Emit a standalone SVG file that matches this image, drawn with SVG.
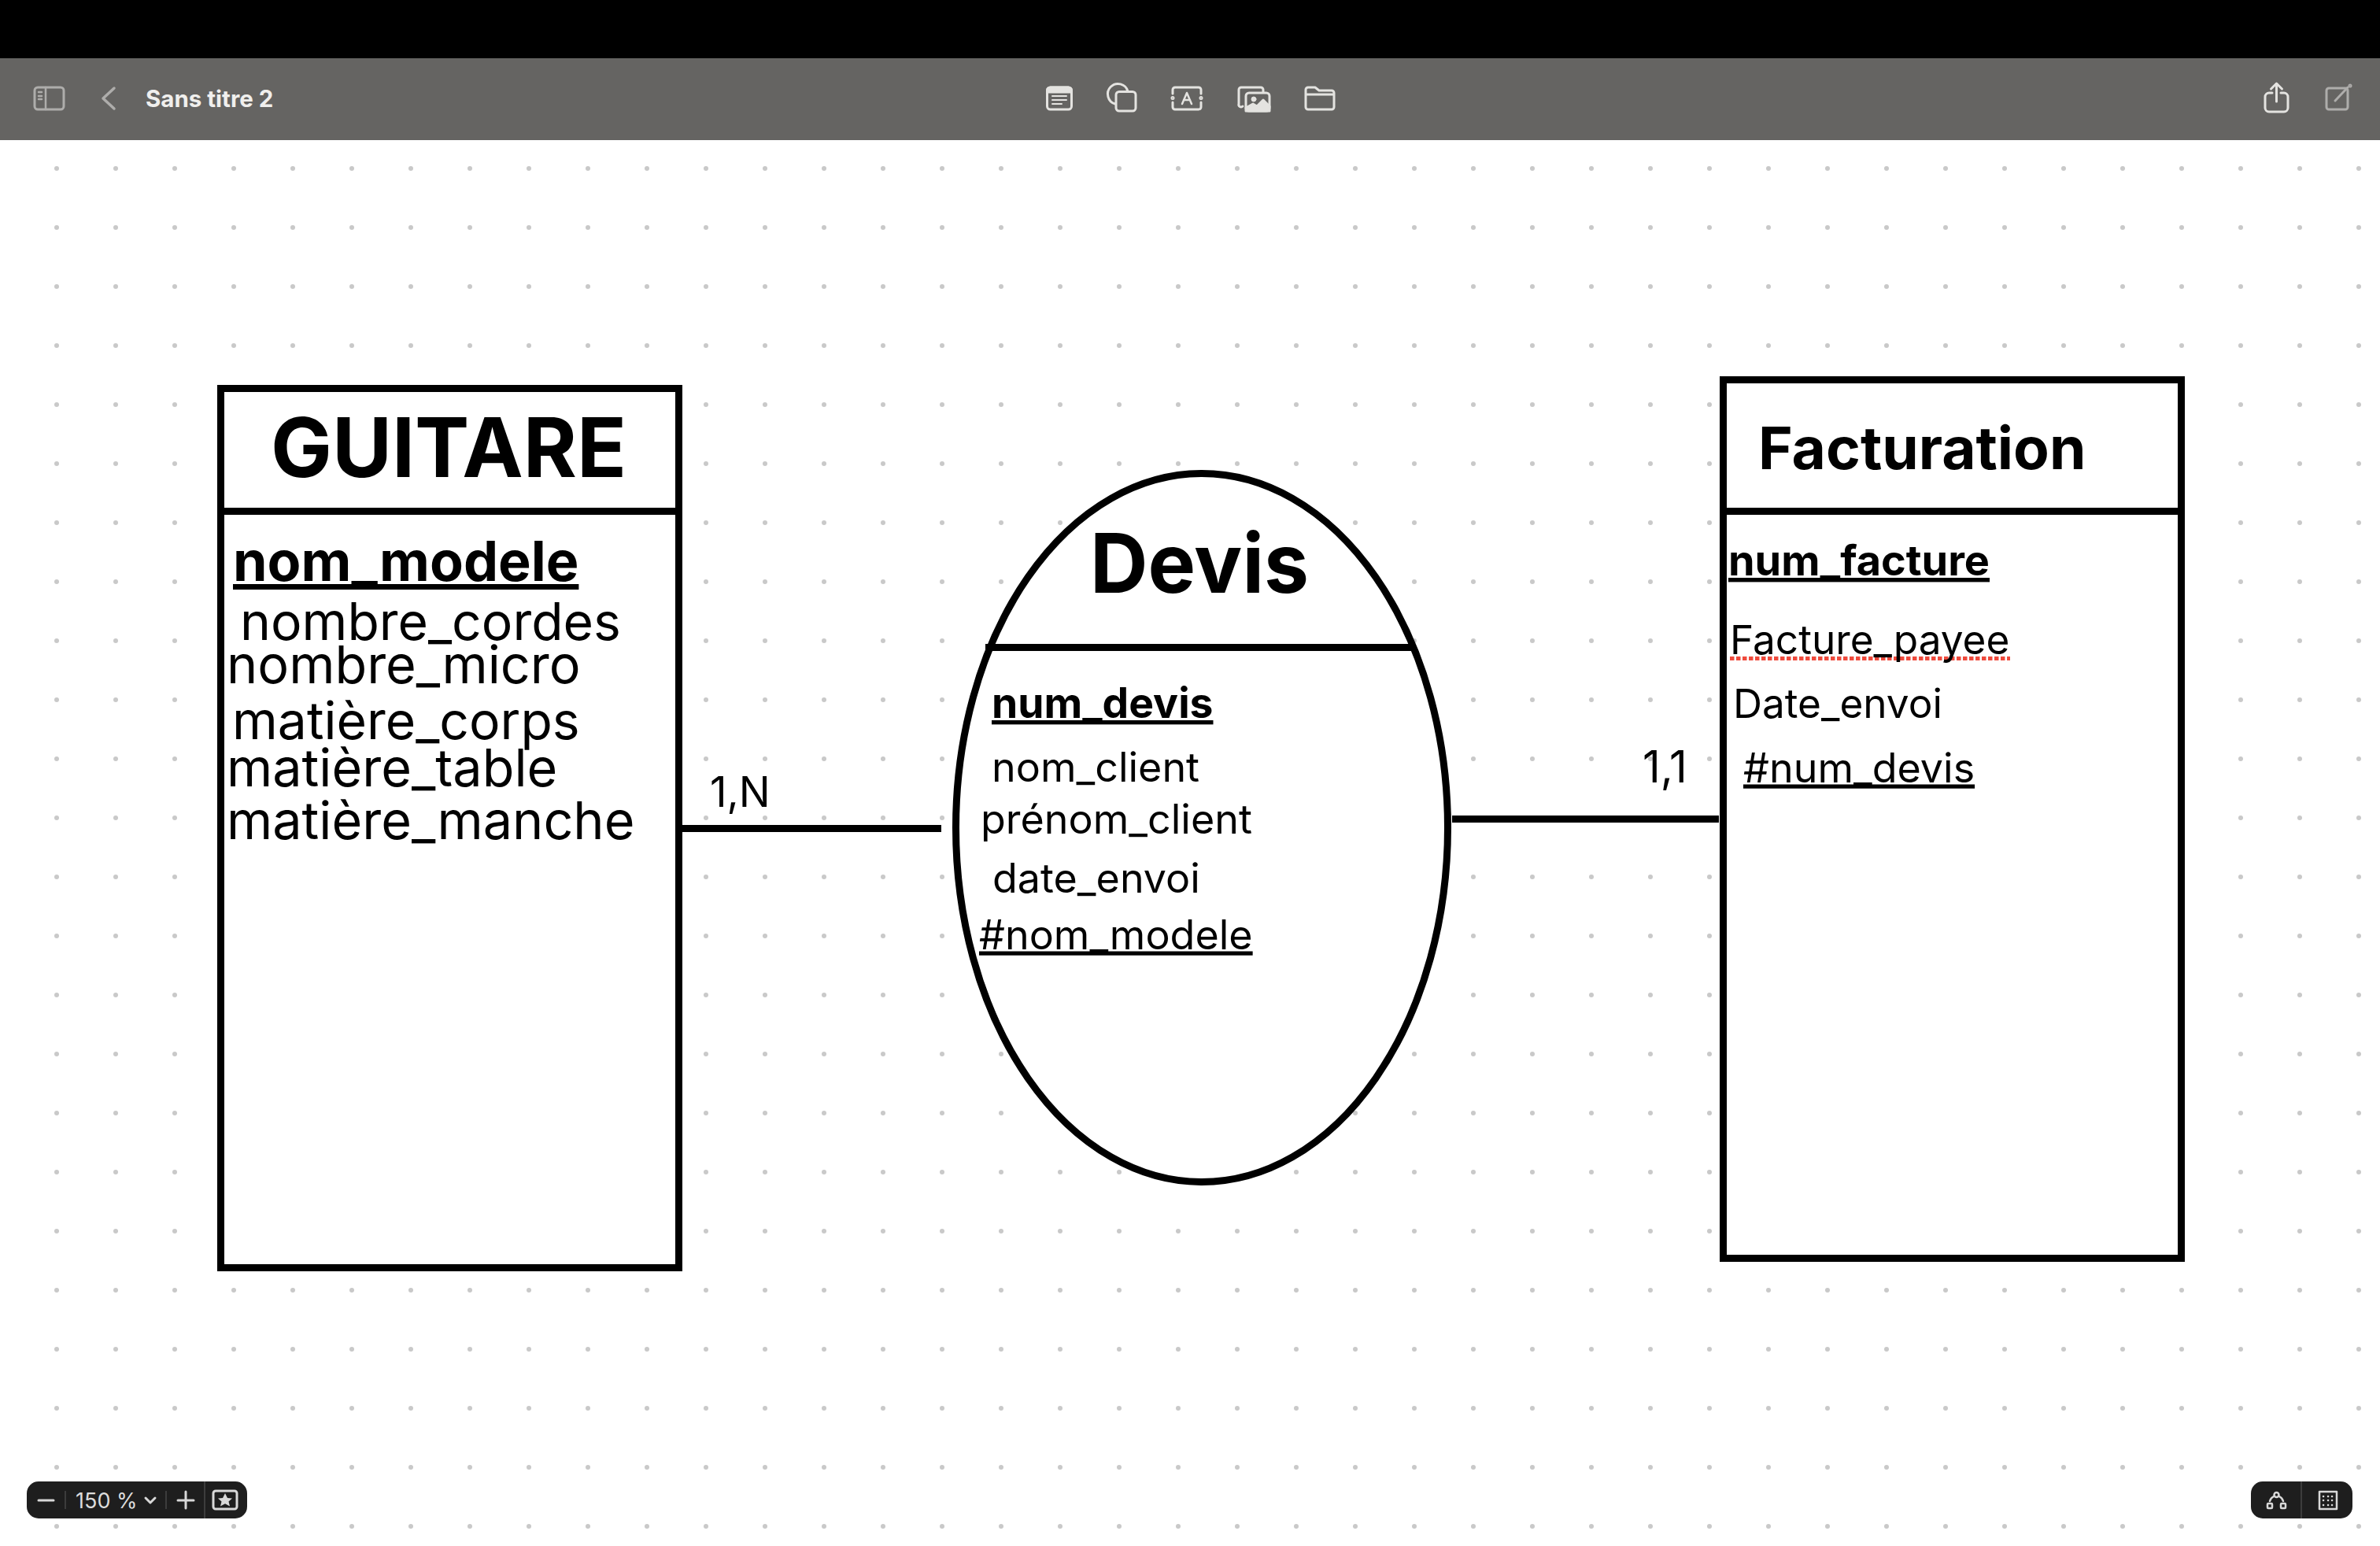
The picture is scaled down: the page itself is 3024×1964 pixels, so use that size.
<svg xmlns="http://www.w3.org/2000/svg" width="3024" height="1964" viewBox="0 0 3024 1964">
<style>
text{font-family:Inter,"Liberation Sans",sans-serif;fill:#000}
.b{font-weight:700}
.u{text-decoration:underline;text-decoration-thickness:.09em;text-underline-offset:.12em}
.r{text-decoration-thickness:.065em}
.box{fill:#fff;stroke:#000;stroke-width:9}
.line{fill:none;stroke:#000;stroke-width:9}
.conn{fill:none;stroke:#000;stroke-width:9}
.ic{fill:none;stroke:#e4e3e0;stroke-width:3;stroke-linecap:round;stroke-linejoin:round}
.id{fill:none;stroke:#aeadab;stroke-width:3;stroke-linecap:round;stroke-linejoin:round}
.p{fill:none;stroke:#d8d8d8;stroke-width:3;stroke-linecap:round;stroke-linejoin:round}
.a{font-size:66px}
.a2{font-size:66.500px}
.c{font-size:52px}
.d{font-size:51.300px}
</style>
<defs>
<pattern id="dots" x="-3" y="-11" width="75" height="75" patternUnits="userSpaceOnUse"><circle cx="75" cy="75" r="3" fill="#c9c9c9"/><circle cx="0" cy="0" r="3" fill="#c9c9c9"/><circle cx="75" cy="0" r="3" fill="#c9c9c9"/><circle cx="0" cy="75" r="3" fill="#c9c9c9"/></pattern>
</defs>
<rect width="3024" height="1964" fill="#fff"/>
<rect y="178" width="3024" height="1786" fill="url(#dots)"/>
<g id="topbar">
<rect width="3024" height="74" fill="#000"/>
<rect y="74" width="3024" height="104" fill="#656462"/>
<g class="id"><rect x="44" y="111" width="37" height="28" rx="4"/><path d="M58 111V139M49 117h4M49 122h4M49 126h4" stroke-width="2.500"/><path d="M145 112L131 125L145 138" stroke-width="3.500"/></g>
<text x="185" y="136" font-size="29.500" font-weight="700" style="fill:#f0efed">Sans titre 2</text>
<g class="ic">
<rect x="1330.500" y="111" width="31" height="28" rx="4"/><path d="M1330.500 117v-2a4 4 0 0 1 4-4h23a4 4 0 0 1 4 4v2z" fill="#e4e3e0"/><path d="M1337 122h18M1337 127h18M1337 132h12" stroke-width="2"/>
<path d="M1417 132A13 13 0 1 1 1433 116"/><rect x="1418" y="116.500" width="25" height="24.500" rx="4"/>
<path d="M1490 119V114a3 3 0 0 1 3-3h30a3 3 0 0 1 3 3v5M1490 130v6a3 3 0 0 0 3 3h30a3 3 0 0 0 3-3v-6"/><path d="M1502 132l6-14l6 14M1504 127h8" stroke-width="2.500"/><circle cx="1490" cy="124.500" r="1"/><circle cx="1526" cy="124.500" r="1"/>
<path d="M1579 135a3 3 0 0 1-5-3V114a3 3 0 0 1 3-3h25a3 3 0 0 1 3 3v3"/><rect x="1583" y="118" width="30" height="23" rx="4"/><circle cx="1593" cy="126" r="3" fill="#e4e3e0" stroke-width="1"/><path d="M1583 137l9-5l5 3l8-8l8 8v6h-30z" fill="#e4e3e0"/>
<path d="M1659 114a3 3 0 0 1 3-3h9l5 4h16a3 3 0 0 1 3 3v18a3 3 0 0 1-3 3h-30a3 3 0 0 1-3-3zM1659 120h36"/>
<path d="M2887 118h-4a5 5 0 0 0-5 5v14a5 5 0 0 0 5 5h19a5 5 0 0 0 5-5v-14a5 5 0 0 0-5-5h-4M2892.500 129V107M2885.500 113l7-7l7 7"/>
</g>
<g class="id"><rect x="2956" y="112" width="27" height="27" rx="3"/><path d="M2967 128L2983 111"/><circle cx="2986" cy="109" r="1"/></g>
</g>
<g id="connectors">
<path class="conn" d="M866 1052.500H1196"/>
<path class="conn" d="M1845 1040.500H2184"/>
</g>
<g id="guitare">
<rect class="box" x="280.500" y="493.500" width="582" height="1117"/>
<path class="line" d="M280 649.500H863"/>
<text class="b" x="344" y="606" font-size="105" textLength="452" lengthAdjust="spacingAndGlyphs">GUITARE</text>
<text class="b u" x="296" y="738" font-size="70">nom_modele</text>
<text class="a" x="305" y="813">nombre_cordes</text>
<text class="a2" x="288" y="868">nombre_micro</text>
<text class="a" x="295" y="939">matière_corps</text>
<text class="a2" x="288" y="999">matière_table</text>
<text class="a2" x="288" y="1066">matière_manche</text>
</g>
<g id="devis">
<ellipse class="box" cx="1527" cy="1051.500" rx="312.500" ry="450"/>
<path class="line" d="M1252 822.500H1794"/>
<text class="b" x="1385" y="753" font-size="105" textLength="278" lengthAdjust="spacingAndGlyphs">Devis</text>
<text class="b u" x="1260" y="912" font-size="53.400">num_devis</text>
<text class="c" x="1260" y="992.500">nom_client</text>
<text class="c" x="1246" y="1058.500">prénom_client</text>
<text class="c" x="1261" y="1133.500">date_envoi</text>
<text class="c u r" x="1244" y="1205.500">#nom_modele</text>
</g>
<g id="facturation">
<rect class="box" x="2189.500" y="482.500" width="582" height="1116"/>
<path class="line" d="M2189 649.500H2772"/>
<text class="b" x="2234" y="596" font-size="74.700">Facturation</text>
<text class="b u" x="2196" y="731" font-size="54">num_facture</text>
<path d="M2198 836.500H2554" stroke="#ef4a3c" stroke-width="5" stroke-dasharray="5.500 2.500" fill="none"/>
<text class="d" x="2198" y="831">Facture_payee</text>
<text class="d" x="2202" y="912">Date_envoi</text>
<text class="c u r" x="2215" y="993.500">#num_devis</text>
</g>
<g id="labels">
<text x="902" y="1025" font-size="53">1,N</text>
<text x="2087" y="994" font-size="56">1,1</text>
</g>
<g id="zoomctl">
<rect x="34" y="1882" width="280" height="47" rx="15" fill="#1e1e1e"/>
<path d="M83 1894v23M211 1894v23M260 1882v47" stroke="#3c3c3c" stroke-width="2"/>
<path class="p" d="M49 1906H68M226 1906H246M236 1895V1916M185 1903l6 6l6-6"/>
<text x="96" y="1916" font-size="27" style="fill:#dcdcdc">150 %</text>
<rect x="271" y="1894" width="30" height="23" rx="3" class="p"/>
<path d="M286 1897l3 6l6 .5l-4.500 4l1.500 6l-6-3.200l-6 3.200l1.500-6l-4.500-4l6-.5z" fill="#d8d8d8"/>
</g>
<g id="viewctl">
<rect x="2860" y="1882" width="129" height="47" rx="15" fill="#1e1e1e"/>
<path d="M2924 1882v47" stroke="#3c3c3c" stroke-width="2"/>
<g class="p" style="stroke-width:2.500"><circle cx="2892.500" cy="1899" r="3"/><rect x="2881" y="1910" width="6" height="6" rx="1"/><rect x="2898" y="1910" width="6" height="6" rx="1"/><path d="M2884 1907q1-4 5-6M2901 1907q-1-4-5-6"/><rect x="2947" y="1895" width="22" height="22" stroke-linecap="butt"/></g>
<path d="M2952 1901h.1M2958 1901h.1M2963 1901h.1M2952 1906h.1M2958 1906h.1M2963 1906h.1M2952 1912h.1M2958 1912h.1M2963 1912h.1" stroke="#d8d8d8" stroke-width="2.500" stroke-linecap="round"/>
</g>
</svg>
